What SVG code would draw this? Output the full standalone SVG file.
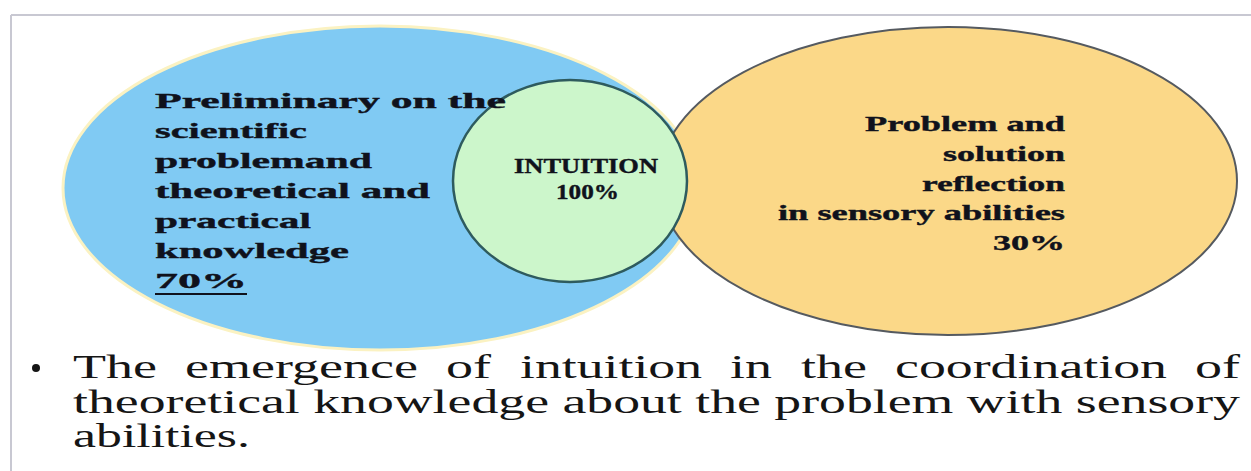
<svg xmlns="http://www.w3.org/2000/svg" width="1251" height="471" viewBox="0 0 1251 471">
<style>
.frame{stroke:#c8c8d2;stroke-width:2;fill:none}
.lbl{font-family:"Liberation Serif","Times New Roman",serif;font-weight:bold;font-size:22px;fill:#10121c;stroke:#10121c;stroke-width:0.4}
.mid{font-size:22px}
.body{font-family:"Liberation Serif","Times New Roman",serif;font-size:34px;fill:#151515}
</style>
<rect width="1251" height="471" fill="#ffffff"/>
<g id="frame">
<path class="frame" d="M11 15 H1251 M11 15 V471"/>
</g>
<g id="node-knowledge">
<ellipse cx="380" cy="188" rx="317" ry="162" fill="#80caf3" stroke="#fbf2c2" stroke-width="3"/>
</g>
<g id="node-sensory">
<ellipse cx="948" cy="181" rx="289" ry="154" fill="#fbd888" stroke="#555a60" stroke-width="2"/>
</g>
<g id="node-intuition">
<ellipse cx="570" cy="181" rx="117" ry="101" fill="#ccf6cb" stroke="#2e5b5e" stroke-width="2.5"/>
</g>
<g id="connectors"></g>
<g id="text-knowledge" class="lbl">
<text x="155" y="108" textLength="351" lengthAdjust="spacingAndGlyphs">Preliminary on the</text>
<text x="155" y="138" textLength="152" lengthAdjust="spacingAndGlyphs">scientific</text>
<text x="155" y="168" textLength="217" lengthAdjust="spacingAndGlyphs">problemand</text>
<text x="155" y="198" textLength="275" lengthAdjust="spacingAndGlyphs">theoretical and</text>
<text x="155" y="228" textLength="156" lengthAdjust="spacingAndGlyphs">practical</text>
<text x="155" y="258" textLength="194" lengthAdjust="spacingAndGlyphs">knowledge</text>
<text x="155" y="288" textLength="92" lengthAdjust="spacingAndGlyphs">70%</text>
<rect x="155" y="293" width="92" height="2" fill="#10121c" stroke="none"/>
</g>
<g id="text-intuition" class="lbl mid">
<text x="514" y="173" textLength="144" lengthAdjust="spacingAndGlyphs">INTUITION</text>
<text x="556" y="199" textLength="63" lengthAdjust="spacingAndGlyphs">100%</text>
</g>
<g id="text-sensory" class="lbl" text-anchor="end">
<text x="1065" y="131" textLength="200" lengthAdjust="spacingAndGlyphs">Problem and</text>
<text x="1065" y="161" textLength="122" lengthAdjust="spacingAndGlyphs">solution</text>
<text x="1065" y="191" textLength="143" lengthAdjust="spacingAndGlyphs">reflection</text>
<text x="1065" y="220" textLength="287" lengthAdjust="spacingAndGlyphs">in sensory abilities</text>
<text x="1065" y="250" textLength="72" lengthAdjust="spacingAndGlyphs">30%</text>
</g>
<g id="bullet-text" class="body">
<circle cx="36" cy="368" r="4" fill="#151515"/>
<text x="73" y="378" textLength="84" lengthAdjust="spacingAndGlyphs">The</text>
<text x="185" y="378" textLength="233" lengthAdjust="spacingAndGlyphs">emergence</text>
<text x="446" y="378" textLength="45" lengthAdjust="spacingAndGlyphs">of</text>
<text x="520" y="378" textLength="182" lengthAdjust="spacingAndGlyphs">intuition</text>
<text x="730" y="378" textLength="42" lengthAdjust="spacingAndGlyphs">in</text>
<text x="801" y="378" textLength="66" lengthAdjust="spacingAndGlyphs">the</text>
<text x="895" y="378" textLength="272" lengthAdjust="spacingAndGlyphs">coordination</text>
<text x="1195" y="378" textLength="45" lengthAdjust="spacingAndGlyphs">of</text>
<text x="73" y="413" textLength="1167" lengthAdjust="spacingAndGlyphs">theoretical knowledge about the problem with sensory</text>
<text x="73" y="447" textLength="177" lengthAdjust="spacingAndGlyphs">abilities.</text>
</g>
</svg>
